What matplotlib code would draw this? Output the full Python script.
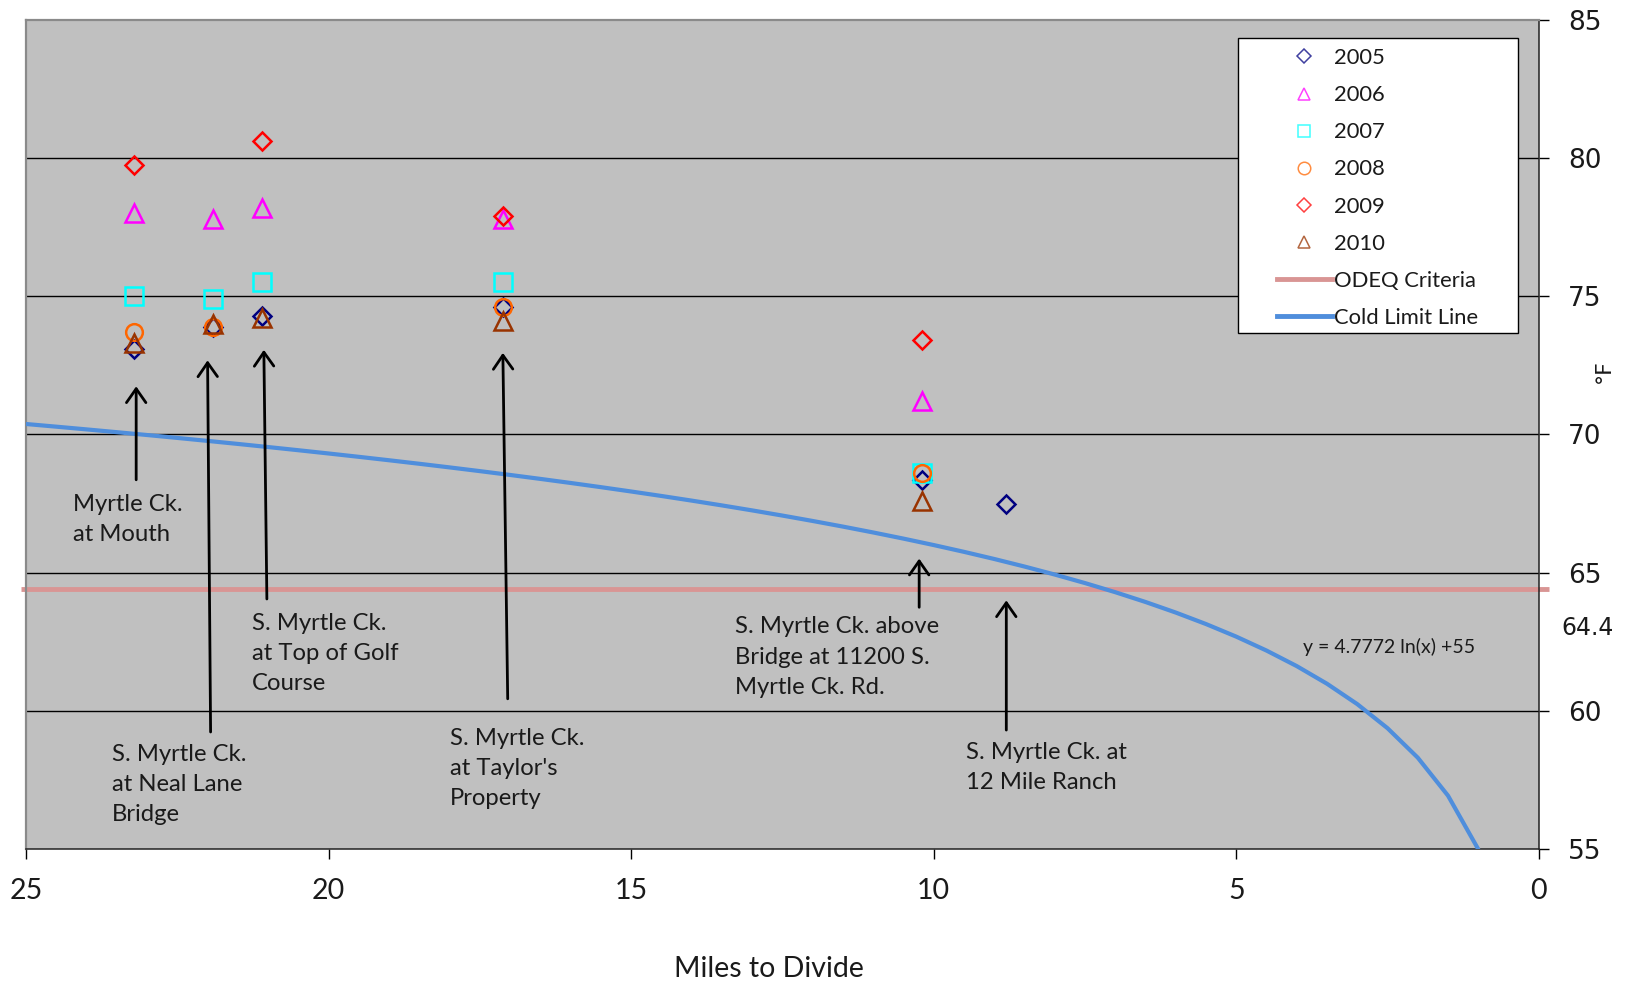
import numpy as np
import matplotlib.pyplot as plt
from matplotlib.lines import Line2D
from matplotlib.patches import Rectangle

# ---- data -------------------------------------------------------------
nan = np.nan
miles = [23.21, 21.91, 21.10, 17.11, 10.20, 8.81]   # miles to divide for each site

t2005 = [73.1, 73.9, 74.3, 74.6, 68.35, 67.5]
t2006 = [78.0, 77.8, 78.2, 77.8, 71.2, nan]
t2007 = [75.0, 74.9, 75.5, 75.5, 68.6, nan]
t2008 = [73.7, 73.9, nan, 74.6, 68.6, nan]
t2009 = [79.75, nan, 80.6, 77.9, 73.4, nan]
t2010 = [73.3, 74.0, 74.2, 74.1, 67.6, nan]

years = ["2005", "2006", "2007", "2008", "2009", "2010"]
series = [t2005, t2006, t2007, t2008, t2009, t2010]
markers = ["D", "^", "s", "o", "D", "^"]
colors = ["#000080", "#FF00FF", "#00FFFF", "#FF6600", "#FF0000", "#993300"]

odeq_criteria = 64.4
cold_a, cold_b = 4.7772, 55.0          # y = a ln(x) + b
cold_x = np.arange(25.0, 0.99, -0.5)

x_ticks = [25, 20, 15, 10, 5, 0]
y_ticks = [55, 60, 65, 70, 75, 80, 85]

site_labels = [
    "Myrtle Ck.\nat Mouth",
    "S. Myrtle Ck.\nat Neal Lane\nBridge",
    "S. Myrtle Ck.\nat Top of Golf\nCourse",
    "S. Myrtle Ck.\nat Taylor's\nProperty",
    "S. Myrtle Ck. above\nBridge at 11200 S.\nMyrtle Ck. Rd.",
    "S. Myrtle Ck. at\n12 Mile Ranch",
]
# label anchor (first-line baseline) and arrow tail/head, in data units
label_pos = [(24.22, 67.30), (23.58, 58.33), (21.27, 63.07),
             (18.00, 58.91), (13.28, 62.93), (9.46, 58.33)]
arrow_tail = [(23.18, 68.36), (21.95, 59.24), (21.02, 64.05),
              (17.04, 60.44), (10.24, 63.75), (8.80, 59.31)]
arrow_head = [(23.18, 71.74), (22.00, 72.68), (21.07, 73.06),
              (17.12, 72.95), (10.24, 65.51), (8.80, 64.00)]

# ---- figure -------------------------------------------------------------
TXT = "Lato"
INK = "#1a1a1a"
fig = plt.figure(figsize=(16.28, 9.81), dpi=100)
ax = fig.add_axes([0.016, 0.1343, 0.9292, 0.8457])
ax.set_facecolor("#C0C0C0")
ax.set_xlim(25, 0)
ax.set_ylim(55, 85)
ax.set_xticks(x_ticks)
ax.set_yticks(y_ticks)
ax.yaxis.tick_right()
ax.set_yticklabels([])

for yv in y_ticks[1:-1]:
    ax.axhline(yv, color="black", lw=1.0, zorder=1)

for side in ("left", "top"):
    ax.spines[side].set_color("#8a8a8a")
    ax.spines[side].set_linewidth(1.6)
for side in ("right", "bottom"):
    ax.spines[side].set_color("#222222")
    ax.spines[side].set_linewidth(1.1)

ax.tick_params(axis="y", direction="out", length=7, width=1,
               left=False, right=True)
ax.tick_params(axis="x", direction="out", length=7, width=1, pad=14,
               labelsize=20.5, labelcolor=INK)
for lab in ax.get_xticklabels():
    lab.set_family(TXT)

# right-hand temperature labels
for yv in y_ticks:
    ax.annotate(f"{yv}", xy=(1.0, yv), xycoords=("axes fraction", "data"),
                xytext=(21, 0), textcoords="offset points", fontsize=19,
                color=INK, va="center_baseline", ha="left",
                annotation_clip=False)

# ODEQ criteria line (runs slightly past the plot edges)
ax.plot([25.09, -0.17], [odeq_criteria, odeq_criteria], color="#D99594",
        lw=3.5, solid_capstyle="butt", clip_on=False, zorder=2)
ax.annotate(f"{odeq_criteria:g}", xy=(1.0, odeq_criteria),
            xycoords=("axes fraction", "data"), xytext=(16, -28),
            textcoords="offset points", fontsize=17, color=INK,
            va="center", ha="left", annotation_clip=False)

# cold limit trendline
ax.plot(cold_x, cold_a * np.log(cold_x) + cold_b, color="#4F8EDC", lw=3,
        zorder=3, solid_capstyle="round")
ax.text(3.90, 62.10, "y = 4.7772 ln(x) +55", family=TXT, fontsize=14,
        color=INK)

# yearly temperatures
msize = {"D": 9.5, "^": 13, "s": 12.5, "o": 12}
for vals, m, c in zip(series, markers, colors):
    ax.plot(miles, vals, ls="none", marker=m, mfc="none", mec=c, ms=msize[m],
            mew=1.8, zorder=4)

# site annotations
line_pt = 23.0
for txt, (lx, ly), tail, head in zip(site_labels, label_pos, arrow_tail, arrow_head):
    n = txt.count("\n")
    ax.annotate(txt, xy=(lx, ly), xytext=(0, -n * line_pt),
                textcoords="offset points", family=TXT, fontsize=17.2,
                color=INK, va="baseline", ha="left", linespacing=1.54)
    ax.annotate("", xy=head, xytext=tail,
                arrowprops=dict(arrowstyle="->,head_length=0.5,head_width=0.35",
                                color="black", lw=2, mutation_scale=20,
                                shrinkA=0, shrinkB=0))

# legend box and entries
ax.add_patch(Rectangle((0.801, 0.622), 0.185, 0.356, transform=ax.transAxes,
                       facecolor="white", edgecolor="black", lw=1, zorder=6))
handles = [Line2D([], [], ls="none", marker=m, mfc="none", mec=c, alpha=0.75,
                  ms=(7.5 if m == "D" else 9), mew=1.1)
           for m, c in zip(markers, colors)]
handles += [Line2D([], [], color="#D99594", lw=3.5),
            Line2D([], [], color="#4F8EDC", lw=3.5)]
labels = years + ["ODEQ Criteria", "Cold Limit Line"]
leg = ax.legend(handles, labels, loc="upper left", bbox_to_anchor=(0.8268, 0.9657),
                frameon=False, prop={"family": TXT, "size": 15.8},
                labelspacing=0.78, handlelength=2.5, handletextpad=0.12,
                borderpad=0, borderaxespad=0)
leg.set_zorder(7)
for t in leg.get_texts():
    t.set_color(INK)

fig.text(0.4724, 0.012, "Miles to Divide", family=TXT, fontsize=20.5,
         ha="center", va="center", color=INK)
fig.text(0.985, 0.622, "°F", fontsize=16, rotation=90, ha="center",
         va="center", color=INK)

fig.savefig("out.png", dpi=100)
